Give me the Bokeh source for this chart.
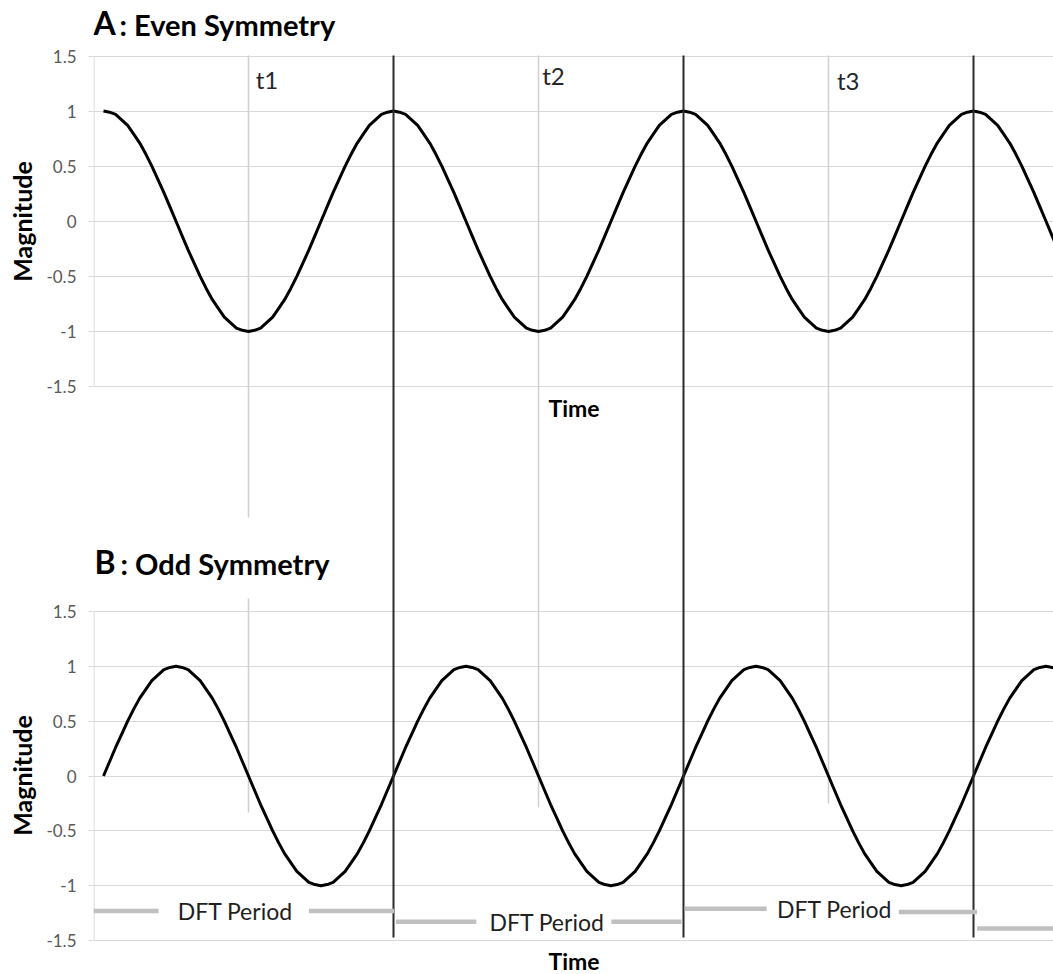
from math import pi
from bokeh.plotting import figure
from bokeh.layouts import row
from bokeh.models import Range1d, FixedTicker
from bokeh.core.properties import value
from bokeh.embed import file_html
from bokeh.resources import INLINE

# ---------------- data ----------------
# 48 samples per DFT period
sample_index = list(range(159))

even_magnitude = [
    1.0, 0.99, 0.97, 0.92, 0.87, 0.79, 0.71, 0.61, 0.5, 0.38, 0.26, 0.13,
    0.0, -0.13, -0.26, -0.38, -0.5, -0.61, -0.71, -0.79, -0.87, -0.92, -0.97, -0.99,
    -1.0, -0.99, -0.97, -0.92, -0.87, -0.79, -0.71, -0.61, -0.5, -0.38, -0.26, -0.13,
    0.0, 0.13, 0.26, 0.38, 0.5, 0.61, 0.71, 0.79, 0.87, 0.92, 0.97, 0.99,
    1.0, 0.99, 0.97, 0.92, 0.87, 0.79, 0.71, 0.61, 0.5, 0.38, 0.26, 0.13,
    0.0, -0.13, -0.26, -0.38, -0.5, -0.61, -0.71, -0.79, -0.87, -0.92, -0.97, -0.99,
    -1.0, -0.99, -0.97, -0.92, -0.87, -0.79, -0.71, -0.61, -0.5, -0.38, -0.26, -0.13,
    0.0, 0.13, 0.26, 0.38, 0.5, 0.61, 0.71, 0.79, 0.87, 0.92, 0.97, 0.99,
    1.0, 0.99, 0.97, 0.92, 0.87, 0.79, 0.71, 0.61, 0.5, 0.38, 0.26, 0.13,
    0.0, -0.13, -0.26, -0.38, -0.5, -0.61, -0.71, -0.79, -0.87, -0.92, -0.97, -0.99,
    -1.0, -0.99, -0.97, -0.92, -0.87, -0.79, -0.71, -0.61, -0.5, -0.38, -0.26, -0.13,
    0.0, 0.13, 0.26, 0.38, 0.5, 0.61, 0.71, 0.79, 0.87, 0.92, 0.97, 0.99,
    1.0, 0.99, 0.97, 0.92, 0.87, 0.79, 0.71, 0.61, 0.5, 0.38, 0.26, 0.13,
    0.0, -0.13, -0.26,
]
odd_magnitude = [
    0.0, 0.13, 0.26, 0.38, 0.5, 0.61, 0.71, 0.79, 0.87, 0.92, 0.97, 0.99,
    1.0, 0.99, 0.97, 0.92, 0.87, 0.79, 0.71, 0.61, 0.5, 0.38, 0.26, 0.13,
    0.0, -0.13, -0.26, -0.38, -0.5, -0.61, -0.71, -0.79, -0.87, -0.92, -0.97, -0.99,
    -1.0, -0.99, -0.97, -0.92, -0.87, -0.79, -0.71, -0.61, -0.5, -0.38, -0.26, -0.13,
    0.0, 0.13, 0.26, 0.38, 0.5, 0.61, 0.71, 0.79, 0.87, 0.92, 0.97, 0.99,
    1.0, 0.99, 0.97, 0.92, 0.87, 0.79, 0.71, 0.61, 0.5, 0.38, 0.26, 0.13,
    0.0, -0.13, -0.26, -0.38, -0.5, -0.61, -0.71, -0.79, -0.87, -0.92, -0.97, -0.99,
    -1.0, -0.99, -0.97, -0.92, -0.87, -0.79, -0.71, -0.61, -0.5, -0.38, -0.26, -0.13,
    0.0, 0.13, 0.26, 0.38, 0.5, 0.61, 0.71, 0.79, 0.87, 0.92, 0.97, 0.99,
    1.0, 0.99, 0.97, 0.92, 0.87, 0.79, 0.71, 0.61, 0.5, 0.38, 0.26, 0.13,
    0.0, -0.13, -0.26, -0.38, -0.5, -0.61, -0.71, -0.79, -0.87, -0.92, -0.97, -0.99,
    -1.0, -0.99, -0.97, -0.92, -0.87, -0.79, -0.71, -0.61, -0.5, -0.38, -0.26, -0.13,
    0.0, 0.13, 0.26, 0.38, 0.5, 0.61, 0.71, 0.79, 0.87, 0.92, 0.97, 0.99,
    1.0, 0.99, 0.97,
]

y_tick_values = [-1.5, -1.0, -0.5, 0.0, 0.5, 1.0, 1.5]
y_tick_labels = ["-1.5", "-1", "-0.5", "0", "0.5", "1", "1.5"]

period_boundaries = [48, 96, 144]
marker_times = [24, 72, 120]
marker_labels = ["t1", "t2", "t3"]
marker_label_x = [25.2, 72.6, 121.4]
marker_label_y = [1.29, 1.32, 1.28]

dft_labels = ["DFT Period", "DFT Period", "DFT Period"]
dft_label_x = [21.8, 73.4, 121.0]
dft_label_y = [-1.23, -1.33, -1.21]
dft_bar_x0 = [-1.66, 34.0, 48.4, 84.06, 96.2, 131.65, 144.6]
dft_bar_x1 = [9.12, 48.08, 61.7, 95.67, 109.76, 144.58, 157.5]
dft_bar_y = [-1.23, -1.23, -1.33, -1.33, -1.21, -1.24, -1.39]

# ---------------- layout (page pixels) ----------------
W, H = 1053, 974
MAG_W = 38
PLOT_LEFT = 93
X0_PX = 103.0
PX_PER_SAMPLE = 290.0 / 48
A_TOP, A_BOT = 55.5, 386.0
B_TOP, B_BOT = 611.0, 940.0
FONT = "Lato"


def yrange(top, bot):
    k = 3.0 / (bot - top)
    return Range1d(start=-1.5 - (H - bot) * k, end=1.5 + top * k)


kA = 3.0 / (A_BOT - A_TOP)


def b_to_a(v):
    px = B_TOP + (1.5 - v) / 3.0 * (B_BOT - B_TOP)
    return round(1.5 - (px - A_TOP) * kA, 4)


x_range = Range1d(start=(PLOT_LEFT - X0_PX) / PX_PER_SAMPLE, end=(W - X0_PX) / PX_PER_SAMPLE)

p = figure(width=W - MAG_W, height=H, output_backend="svg", toolbar_location=None,
           x_range=x_range, y_range=yrange(A_TOP, A_BOT), x_axis_type=None,
           title=None, min_border_left=PLOT_LEFT - MAG_W, min_border_right=0,
           min_border_top=0, min_border_bottom=0)
p.outline_line_color = None
p.extra_y_ranges = {"B": yrange(B_TOP, B_BOT), "px": Range1d(start=H, end=0)}
p.extra_x_ranges = {"px": Range1d(start=PLOT_LEFT, end=W)}

tick_pos = [round(v, 4) for v in y_tick_values] + [b_to_a(v) for v in y_tick_values]
overrides = {}
for v, lab in zip(y_tick_values, y_tick_labels):
    overrides[round(v, 4)] = lab
    overrides[b_to_a(v)] = lab

ax = p.yaxis[0]
ax.ticker = FixedTicker(ticks=tick_pos)
ax.major_label_overrides = overrides
ax.axis_line_color = None
ax.major_tick_line_color = "#d9d9d9"
ax.major_tick_out = 5
ax.major_tick_in = 0
ax.minor_tick_line_color = None
ax.major_label_standoff = 12
ax.major_label_text_font = FONT
ax.major_label_text_font_size = "17px"
ax.major_label_text_color = "#595959"

p.ygrid.grid_line_color = "#d9d9d9"
p.ygrid.grid_line_width = 1.2

# left borders of the two panels
p.segment(x0=[PLOT_LEFT + 0.5] * 2, y0=[A_TOP, B_TOP],
          x1=[PLOT_LEFT + 0.5] * 2, y1=[A_BOT, B_BOT],
          x_range_name="px", y_range_name="px", line_color="#d9d9d9", line_width=1.2)

# light grey time markers (t1, t2, t3)
p.segment(x0=[marker_times[0], marker_times[0], marker_times[1], marker_times[2]],
          x1=[marker_times[0], marker_times[0], marker_times[1], marker_times[2]],
          y0=[55, 598, 55, 55], y1=[517, 812, 807, 803],
          y_range_name="px", line_color="#d0d0d0", line_width=1.5)

# curves
p.line(sample_index, even_magnitude, line_color="black", line_width=3, line_join="round")
p.line(sample_index, odd_magnitude, line_color="black", line_width=3, line_join="round",
       y_range_name="B")

# period boundaries (black verticals spanning both panels)
p.segment(x0=period_boundaries, x1=period_boundaries,
          y0=[55] * len(period_boundaries), y1=[937] * len(period_boundaries),
          y_range_name="px", line_color="#2b2b2b", line_width=2)

# DFT period bars and labels
p.segment(x0=dft_bar_x0, x1=dft_bar_x1, y0=dft_bar_y, y1=dft_bar_y,
          y_range_name="B", line_color="#c0c0c0", line_width=4.5)
p.text(x=dft_label_x, y=dft_label_y, text=dft_labels, y_range_name="B",
       text_font=value(FONT), text_font_size="23px", text_color="#1f1f1f",
       text_align="center", text_baseline="middle")

# t labels
p.text(x=marker_label_x, y=marker_label_y, text=marker_labels,
       text_font=value(FONT), text_font_size="24px", text_color="#262626",
       text_align="left", text_baseline="middle")


def ptext(x, y, text, size, align="left"):
    p.text(x=[x], y=[y], text=[text], x_range_name="px", y_range_name="px",
           text_font=value(FONT), text_font_size=size, text_font_style="bold",
           text_color="black", text_align=align, text_baseline="middle")


ptext(93, 21.5, "A", "32px")
ptext(119, 24, ": Even Symmetry", "29px")
ptext(94, 560.5, "B", "32px")
ptext(120, 563, ": Odd Symmetry", "29px")
ptext(573.5, 407, "Time", "23px", align="center")
ptext(573.5, 960, "Time", "23px", align="center")

# left strip holding the vertical axis titles
m = figure(width=MAG_W, height=H, output_backend="svg", toolbar_location=None,
           x_range=Range1d(0, MAG_W), y_range=Range1d(H, 0),
           x_axis_type=None, y_axis_type=None, title=None,
           min_border_left=0, min_border_right=0, min_border_top=0, min_border_bottom=0)
m.outline_line_color = None
m.xgrid.visible = False
m.ygrid.visible = False
m.text(x=[21, 21], y=[221, 775], text=["Magnitude", "Magnitude"], angle=pi / 2,
       text_font=value(FONT), text_font_size="25px", text_font_style="bold",
       text_color="black", text_align="center", text_baseline="middle")

layout = row(m, p, spacing=0)
open("out.html", "w").write(file_html(layout, INLINE))
